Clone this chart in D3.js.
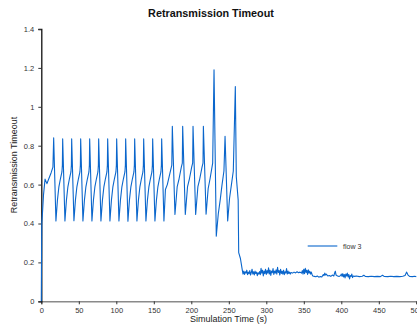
<!DOCTYPE html>
<html>
<head>
<meta charset="utf-8">
<script src="https://cdn.jsdelivr.net/npm/d3@7"></script>
<style>
html,body{margin:0;padding:0;background:#fff;}
svg{display:block;font-family:"Liberation Sans",Arial,sans-serif;}
</style>
</head>
<body>
<svg id="chart" width="417" height="326"></svg>
<script>
// ---- data ----
const timeS = [
0,0.2,0.6,1.5,3,5,7.5,10,13,15.5,
16.5,19.5,21.5,23.5,25.5,27.5,28.1,
28.5,31.5,33.5,35.5,37.5,39.5,40.1,
40.5,43.5,45.5,47.5,49.5,51.5,52.1,
52.5,55.5,57.5,59.5,61.5,63.5,64.1,
64.5,67.5,69.5,71.5,73.5,75.5,76.1,
76.5,79.5,81.5,83.5,85.5,87.5,88.1,
88.5,91.5,93.5,95.5,97.5,99.5,100.1,
100.5,103.5,105.5,107.5,109.5,111.5,112.1,
112.5,115.5,117.5,119.5,121.5,123.5,124.1,
124.5,127.5,129.5,131.5,133.5,135.5,136.1,
136.5,139.5,141.5,143.5,145.5,147.5,148.1,
148.5,151.5,153.5,155.5,157.5,159.5,160.1,
160.5,163.5,165.5,168,171,174,
174.7,178.2,181.2,183.7,186.7,188,
188.5,192,195,197.5,200.5,201.8,
202.3,205.8,208.8,211.3,214.3,215.6,
216.1,219.7,222.5,225,228.5,
230.3,233.3,236,238.5,241,243.5,
245,248.5,251,253.5,256,
258.7,260,262.5,263.2,265.5,
268,269,270,271,272,273,274,275,276,277,278,279,280,281,282,283,284,285,286,287,
288,289,290,291,292,293,294,295,296,297,298,299,300,301,302,303,304,305,306,307,
308,309,310,311,312,313,314,315,316,317,318,319,320,321,322,323,324,325,326,327,
328,329,330,331,332,333,335,337,339,341,343,345,347,348,349,350,351,352,353,354,
355,356,357,358,359,360,361,362,364,366,368,370,372,374,376,377,378,379,380,382,
384,386,388,390,391,392,393,395,397,399,400,401,402,403,404,405,406,407,408,409,
410,411,412,413,414,415,416,418,420,424,428,430,432,436,440,444,448,452,455,457,
462,466,470,474,478,482,485,487,489,491,495,498,500
];
const rtoS = [
0,0.145,0.40,0.45,0.55,0.628,0.605,0.63,0.66,0.69,
0.84,0.413,0.52,0.59,0.63,0.665,0.70,
0.835,0.413,0.52,0.59,0.63,0.665,0.70,
0.835,0.414,0.52,0.59,0.63,0.665,0.70,
0.835,0.413,0.52,0.59,0.63,0.665,0.70,
0.835,0.413,0.52,0.59,0.63,0.665,0.70,
0.835,0.413,0.52,0.59,0.63,0.665,0.70,
0.835,0.413,0.52,0.59,0.63,0.665,0.70,
0.835,0.413,0.52,0.59,0.63,0.665,0.70,
0.835,0.412,0.52,0.59,0.63,0.665,0.70,
0.835,0.413,0.52,0.59,0.63,0.665,0.70,
0.835,0.413,0.52,0.59,0.63,0.665,0.70,
0.835,0.413,0.52,0.59,0.63,0.665,0.70,
0.835,0.413,0.575,0.60,0.65,0.70,
0.90,0.446,0.59,0.63,0.69,0.71,
0.90,0.446,0.59,0.63,0.69,0.71,
0.90,0.446,0.59,0.63,0.69,0.71,
0.90,0.448,0.58,0.63,0.71,
1.19,0.335,0.45,0.52,0.60,0.67,
0.848,0.413,0.53,0.60,0.67,
1.104,0.64,0.52,0.25,0.22,
0.16,0.14,0.155,0.138,0.152,0.145,0.16,0.137,0.15,0.142,0.158,0.135,0.148,0.165,0.14,0.152,0.136,0.155,0.143,0.15,
0.132,0.147,0.14,0.153,0.137,0.17,0.145,0.16,0.13,0.155,0.142,0.165,0.138,0.158,0.145,0.172,0.14,0.16,0.133,0.155,
0.147,0.168,0.138,0.155,0.145,0.162,0.14,0.175,0.148,0.158,0.135,0.165,0.143,0.155,0.14,0.16,0.137,0.152,0.145,0.168,
0.14,0.155,0.143,0.15,0.14,0.148,0.145,0.15,0.146,0.152,0.147,0.15,0.145,0.158,0.14,0.165,0.142,0.17,0.148,0.16,
0.138,0.162,0.145,0.155,0.14,0.15,0.138,0.13,0.128,0.126,0.13,0.124,0.127,0.125,0.138,0.132,0.145,0.135,0.14,0.13,
0.133,0.128,0.135,0.13,0.145,0.155,0.135,0.13,0.128,0.132,0.14,0.128,0.142,0.125,0.138,0.12,0.14,0.13,0.145,0.125,
0.138,0.115,0.132,0.128,0.14,0.122,0.13,0.128,0.13,0.127,0.129,0.134,0.128,0.127,0.129,0.127,0.128,0.127,0.134,0.128,
0.127,0.129,0.127,0.128,0.127,0.129,0.133,0.15,0.135,0.128,0.127,0.129,0.126
];
const xTicks = [0,50,100,150,200,250,300,350,400,450,500];
const yTicks = [0,0.2,0.4,0.6,0.8,1,1.2,1.4];
const seriesName = "flow 3";
const titleText = "Retransmission Timeout";
const xLabel = "Simulation Time (s)";
const yLabel = "Retransmission Timeout";

// ---- chart ----
const svg = d3.select("#chart");
const x = d3.scaleLinear().domain([0,500]).range([41.3,416.3]);
const y = d3.scaleLinear().domain([0,1.4]).range([301.3,29]);

const data = timeS.map((t,i)=>({t, v: rtoS[i]}));

// axes
const xAxis = svg.append("g").attr("transform","translate(0,301.3)")
  .call(d3.axisBottom(x).tickValues(xTicks).tickSize(3).tickPadding(3).tickFormat(d3.format("d")));
xAxis.select(".domain").attr("stroke","#8a8a8a").attr("stroke-width",1.5);
xAxis.selectAll(".tick line").attr("stroke","#333");
xAxis.selectAll("text").attr("fill","#333").attr("font-size","7.5px").attr("font-family","Liberation Sans, Arial, sans-serif");

const yAxis = svg.append("g").attr("transform","translate(41.3,0)")
  .call(d3.axisLeft(y).tickValues(yTicks).tickSize(3).tickPadding(4).tickFormat(d=>String(+d.toFixed(1))));
yAxis.select(".domain").attr("stroke","#111").attr("stroke-width",1.3);
yAxis.selectAll(".tick line").attr("stroke","#333");
yAxis.selectAll("text").attr("fill","#333").attr("font-size","7.5px").attr("font-family","Liberation Sans, Arial, sans-serif");

// line
const line = d3.line().x(d=>x(d.t)).y(d=>y(d.v));
svg.append("path").datum(data)
  .attr("fill","none").attr("stroke","#0a66cc").attr("stroke-width",1.1)
  .attr("stroke-linejoin","round").attr("d",line);

// title and labels
svg.append("text").attr("x",211).attr("y",17).attr("text-anchor","middle")
  .attr("font-size","10.8px").attr("font-weight","bold").attr("fill","#111").text(titleText);
svg.append("text").attr("x",228.5).attr("y",322).attr("text-anchor","middle")
  .attr("font-size","9px").attr("fill","#222").text(xLabel);
svg.append("text").attr("transform","translate(17,165) rotate(-90)").attr("text-anchor","middle")
  .attr("font-size","9px").attr("fill","#222").text(yLabel);

// legend
svg.append("line").attr("x1",307.7).attr("x2",337.3).attr("y1",246).attr("y2",246)
  .attr("stroke","#0a66cc").attr("stroke-width",1.1);
svg.append("text").attr("x",343).attr("y",248.5).attr("font-size","7px").attr("fill","#333").text(seriesName);
</script>
</body>
</html>
